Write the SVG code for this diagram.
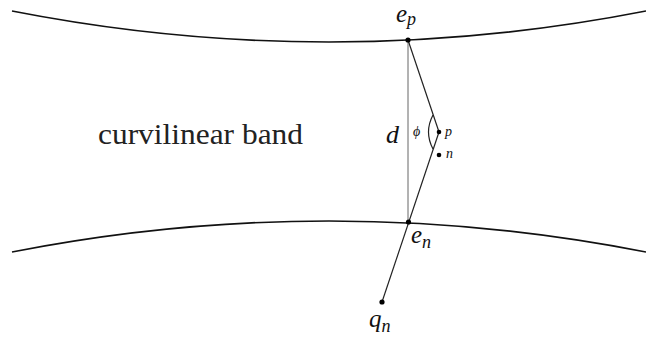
<svg xmlns="http://www.w3.org/2000/svg" width="646" height="338" viewBox="0 0 646 338">
<style>
.curve{fill:none;stroke:#111;stroke-width:1.6}
.ln{fill:none;stroke:#222;stroke-width:1.2}
.thin{fill:none;stroke:#666;stroke-width:1}
.dot{fill:#000}
text{font-family:'Liberation Serif','Times New Roman','DejaVu Serif',serif}
.it{font-style:italic;fill:#111}
.rm{fill:#222}
</style>
<rect width="646" height="338" fill="#fff"/>
<g id="band-top"><path class="curve" d="M12,11 Q329,73 646,11"/></g>
<g id="band-bottom"><path class="curve" d="M12,252 Q329,190 646,252"/></g>
<g id="connectors">
<line class="thin" x1="408" y1="40" x2="408" y2="222"/>
<line class="ln" x1="408" y1="40" x2="439" y2="132"/>
<line class="ln" x1="439" y1="132" x2="382" y2="302"/>
<path class="ln" d="M433,115 Q424,132 433,149"/>
</g>
<g id="ep"><circle class="dot" cx="408" cy="40" r="2.6"/><text class="it" x="396" y="22" font-size="25">e<tspan font-size="18" dy="3">p</tspan></text></g>
<g id="en"><circle class="dot" cx="408.5" cy="222" r="2.6"/><text class="it" x="411" y="243" font-size="25">e<tspan font-size="18" dy="5">n</tspan></text></g>
<g id="qn"><circle class="dot" cx="382" cy="302" r="2.6"/><text class="it" x="369" y="327" font-size="25">q<tspan font-size="18" dy="5">n</tspan></text></g>
<g id="p"><circle class="dot" cx="439" cy="132" r="2.3"/><text class="it" x="445" y="136" font-size="14">p</text></g>
<g id="n"><circle class="dot" cx="439" cy="155" r="2.3"/><text class="it" x="446" y="158" font-size="14">n</text></g>
<g id="d-label"><text class="it" x="386" y="143" font-size="26">d</text></g>
<g id="phi-label"><text class="it" x="413" y="136" font-size="14">ϕ</text></g>
<g id="band-label"><text class="rm" x="98" y="144" font-size="29" textLength="205" lengthAdjust="spacingAndGlyphs">curvilinear band</text></g>
</svg>
